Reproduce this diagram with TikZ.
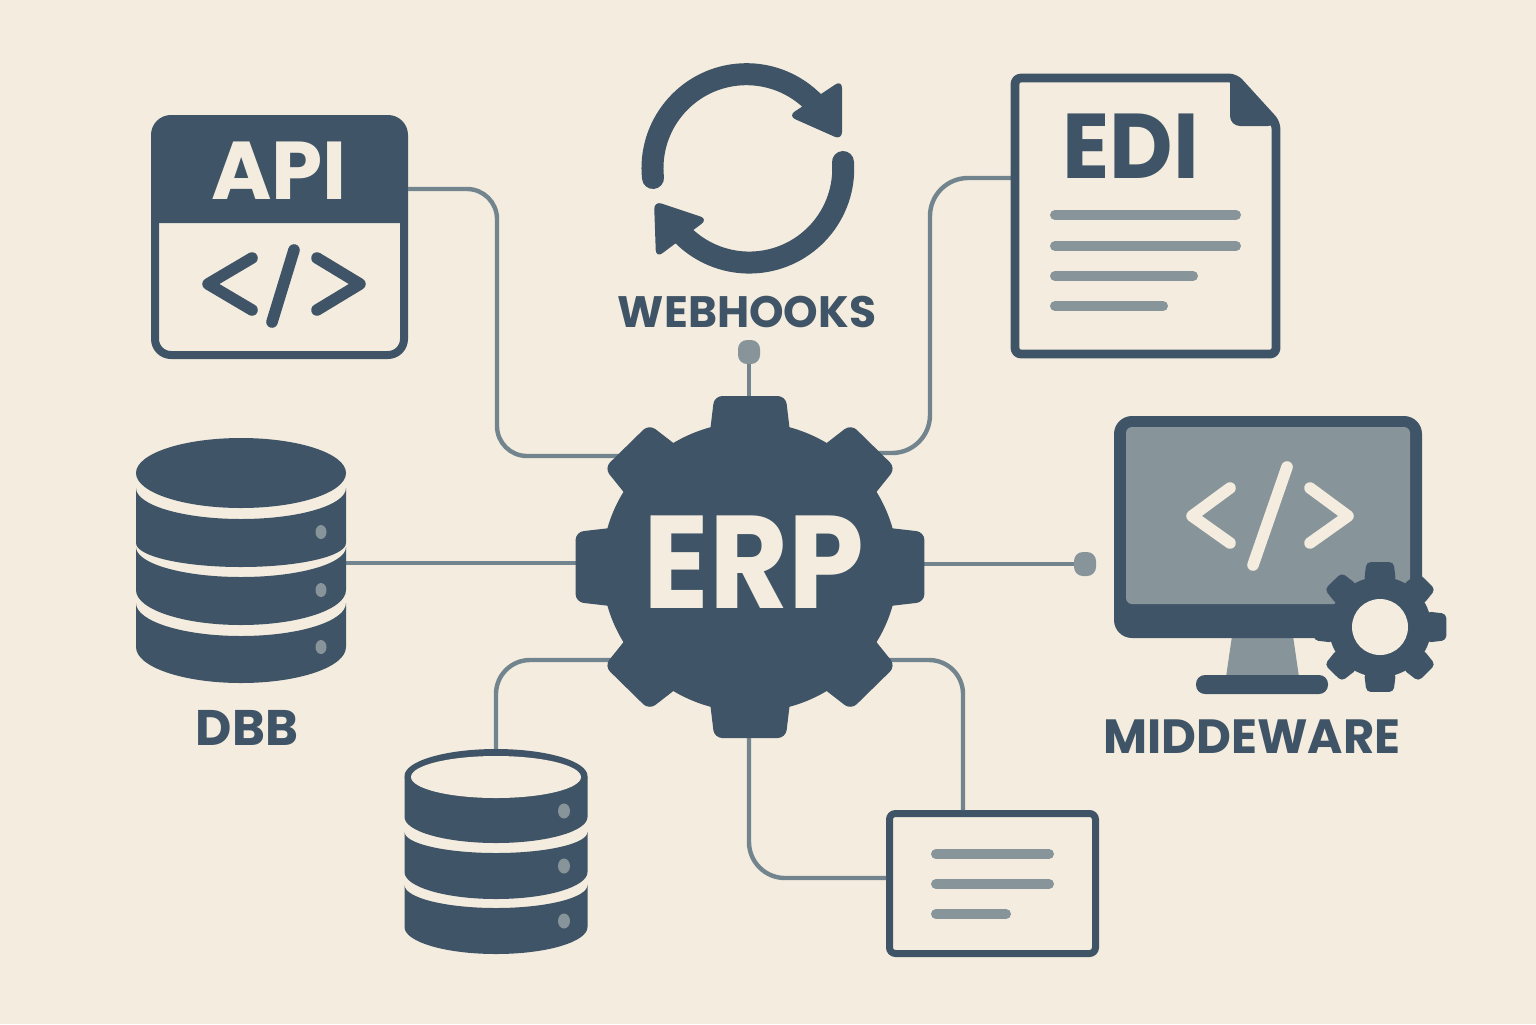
\documentclass[tikz,border=0pt]{standalone}
\usepackage{xcolor}
\usepackage{fontspec}
\setmainfont{Poppins}
\definecolor{paper}{HTML}{F4EDDF}
\definecolor{deep}{HTML}{3F5466}
\definecolor{slate}{HTML}{87949A}
\definecolor{wire}{HTML}{72858F}

%% roue dentee : centre x, centre y, echelle, rayon du corps, arrondi
\newcommand{\gearicon}[5]{%
  \begin{scope}[shift={(#1,#2)},xscale=#3*1.02,yscale=#3]
    \fill[deep] (0,0) circle (#4);
    \foreach \a/\w in {0/35,45/31,90/35,135/31,180/35,225/31,270/35,315/31}
      \fill[deep,rotate=\a,rounded corners=#5] (-\w-6,-120) -- (-\w,-171) -- (\w,-171) -- (\w+6,-120) -- cycle;
  \end{scope}}

%% une tranche de base : gauche, rayon, haut, courbure haut, bas, courbure bas
\newcommand{\dbband}[6]{%
  \fill[deep] (#1,#3) arc[start angle=180,end angle=0,x radius=#2,y radius=#4]
    -- (#1+2*#2,#5) arc[start angle=0,end angle=180,x radius=#2,y radius=#6] -- cycle;}

\begin{document}
\begin{tikzpicture}[x=0.5pt,y=-0.5pt,
    link/.style={wire,line width=2.2pt},
    glyph/.style={line width=5.8pt,line cap=round,line join=round},
    rule/.style={slate,line width=5pt,line cap=round},
    tag/.style={text=deep,inner sep=0pt,font=\bfseries\fontsize{25}{25}\selectfont},
    head/.style={inner sep=0pt,font=\bfseries\fontsize{41}{41}\selectfont},
    port/.style={fill=slate,rounded corners=4.5pt,inner sep=0pt,minimum width=11pt,minimum height=12pt},
    hole/.style={fill=slate},
    frame/.style={inner sep=0pt,outer sep=0pt}]

%% fond
\fill[paper] (0,0) rectangle (1536,1024);

%% boites nommees
\node[frame,outer sep=2pt,draw=deep,fill=paper,line width=4pt,rounded corners=8pt,minimum width=124.5pt,minimum height=118pt] (api) at (279.5,237) {};
\node[frame,minimum width=134.5pt,minimum height=142pt] (edi) at (1145.5,216) {};
\node[frame,minimum width=105pt,minimum height=122.5pt] (dbb) at (241,563) {};
\node[frame,minimum width=91.5pt,minimum height=103pt] (store) at (496,852) {};
\node[frame,outer sep=1.75pt,draw=deep,fill=paper,line width=3.5pt,rounded corners=3pt,minimum width=103pt,minimum height=70pt] (panel) at (992.5,883.5) {};
\node[port] (hookdot) at (749,352) {};
\node[port] (waredot) at (1085,564) {};

%% points de passage
\coordinate (apiout) at (api.east |- 0,189);
\coordinate (ediout) at (edi.west |- 0,178);
\coordinate (panelin) at (panel.west |- 0,878);
\coordinate (panelup) at (panel.north -| 963,0);
\coordinate (gearnw) at (650,456);
\coordinate (gearne) at (850,453);
\coordinate (gearsw) at (650,660);
\coordinate (gearse) at (850,660);
\coordinate (gearn) at (749,420);
\coordinate (gears) at (749,720);
\coordinate (geare) at (900,564);
\coordinate (gearw) at (600,563);

%% liaisons
\draw[link,rounded corners=15pt] (apiout) -| (497,456) -- (gearnw);
\draw[link,rounded corners=19pt] (ediout) -| (930,453) -- (gearne);
\draw[link,rounded corners=17pt] (store.north) |- (gearsw);
\draw[link,rounded corners=17pt] (gearse) -| (panelup);
\draw[link,rounded corners=18pt] (gears) |- (panelin);
\draw[link] (dbb.east) -- (gearw);
\draw[link] (hookdot) -- (gearn);
\draw[link] (waredot) -- (geare);

%% roue centrale
\gearicon{750}{567}{1}{145}{4pt}
\node[head,text=paper,font=\bfseries\fontsize{66}{66}\selectfont,xscale=0.92,transform shape] (erp) at (754,562) {ERP};

%% API
\fill[deep] (155,223) [rounded corners=8pt] -- (155,119) -- (404,119) [sharp corners] -- (404,223) -- cycle;
\node[head,text=paper] (apitext) at (279,171) {API};
\draw[deep,glyph] (252,258) -- (208,284) -- (252,310);
\draw[deep,glyph] (294,250) -- (272,322);
\draw[deep,glyph] (317,258) -- (360,284) -- (317,310);

%% WEBHOOKS
\draw[deep,line width=11pt,line cap=round] (653,178) arc[start angle=174,end angle=317,radius=94];
\draw[deep,line width=11pt,line cap=round] (843,162) arc[start angle=-4,end angle=135,radius=94];
\fill[deep,rounded corners=4pt] (842,80) -- (842,140) -- (788,116) -- cycle;
\fill[deep,rounded corners=4pt] (654,201) -- (708,219) -- (656,258) -- cycle;
\node[tag,font=\bfseries\fontsize{22}{22}\selectfont] (hooktext) at (747,312) {WEBHOOKS};

%% EDI
\draw[deep,line width=4.4pt,line join=round,rounded corners=3pt] (1015,78) -- (1235,78) -- (1276,123) -- (1276,354) -- (1015,354) -- cycle;
\fill[deep] (1230,80) [rounded corners=5pt] -- (1230,126) -- (1278,126) [sharp corners] -- (1236,78) -- cycle;
\node[head,text=deep,font=\bfseries\fontsize{46}{46}\selectfont,xscale=0.95,transform shape] (editext) at (1131,146) {EDI};
\foreach \y/\e in {215/1236,246/1236,276/1193,306/1163}
  \draw[rule] (1055,\y) -- (\e,\y);

%% DBB
\fill[deep] (241,473) ellipse [x radius=105,y radius=35];
\dbband{136}{105}{488}{31}{543}{24}
\dbband{136}{105}{547}{30}{590}{35}
\dbband{136}{105}{603}{33}{647}{36}
\foreach \y in {532,590,647}
  \fill[hole] (321,\y) ellipse [x radius=5.5,y radius=7];
\node[tag] (dbbtext) at (247,728) {DBB};

%% base du bas
\fill[deep] (496,776) ellipse [x radius=91.5,y radius=27];
\dbband{404.5}{91.5}{776}{20}{817}{26}
\dbband{404.5}{91.5}{832}{21}{872}{27}
\dbband{404.5}{91.5}{885}{23}{927}{27}
\fill[paper] (496,777) ellipse [x radius=85,y radius=21];
\foreach \y in {811,866,921}
  \fill[hole] (564,\y) ellipse [x radius=6,y radius=7.5];

%% panneau du bas
\foreach \y/\e in {854/1049,884/1049,914/1006}
  \draw[rule] (936,\y) -- (\e,\y);

%% MIDDEWARE
\fill[slate] (1232,636) -- (1293,636) -- (1299,677) -- (1226,677) -- cycle;
\fill[deep,rounded corners=9pt] (1114,416) rectangle (1422,638);
\fill[slate,rounded corners=3pt] (1126,427) rectangle (1410,604);
\fill[deep,rounded corners=4.5pt] (1196,675) rectangle (1328,694);
\draw[paper,glyph] (1230,488) -- (1192,516) -- (1230,543);
\draw[paper,glyph] (1287,467) -- (1253,565);
\draw[paper,glyph] (1310,488) -- (1348,516) -- (1310,543);
\gearicon{1380}{627}{0.38}{132}{2.2pt}
\fill[paper] (1380,627) circle (28);
\node[tag,font=\bfseries\fontsize{24}{24}\selectfont] (waretext) at (1252,737) {MIDDEWARE};

\end{tikzpicture}
\end{document}
